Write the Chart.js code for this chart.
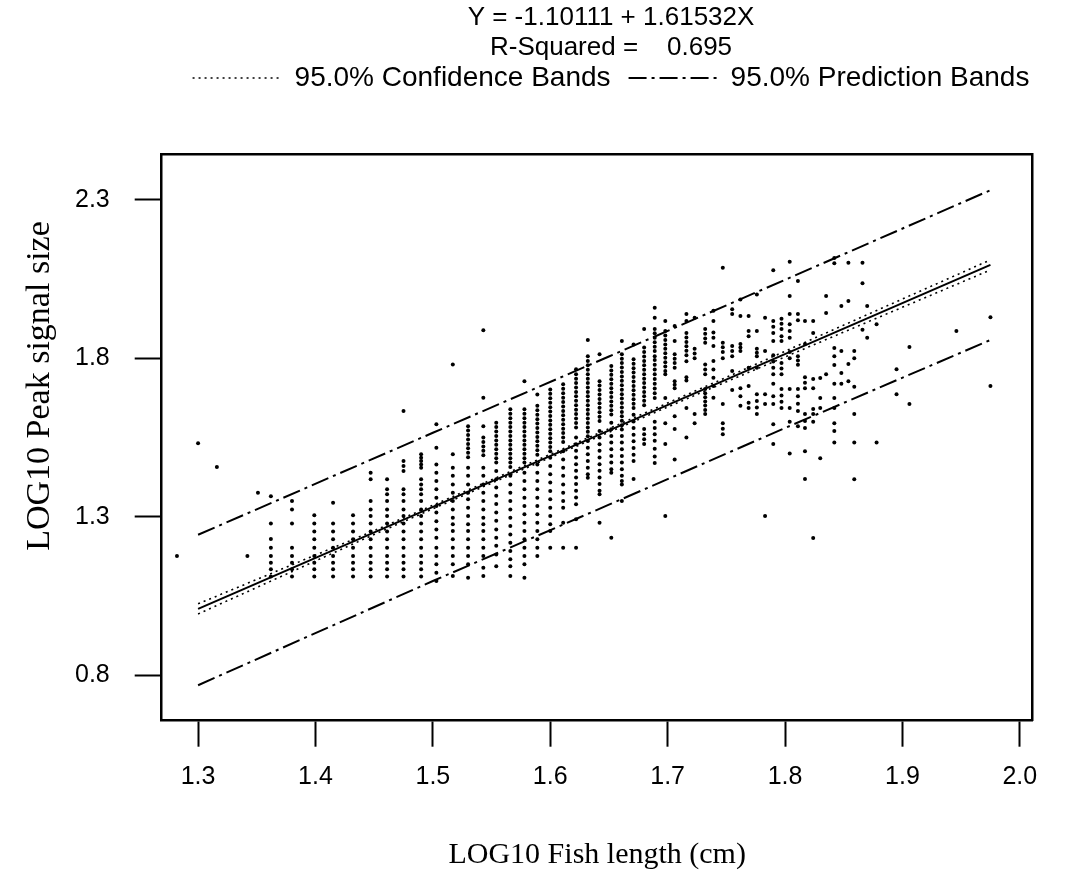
<!DOCTYPE html>
<html>
<head>
<meta charset="utf-8">
<script src="https://cdn.jsdelivr.net/npm/chart.js@4.4.1/dist/chart.umd.min.js"></script>
<style>
  html, body { margin: 0; padding: 0; background: #fff; }
  #wrap { width: 1091px; height: 882px; }
</style>
</head>
<body>
<div id="wrap"><canvas id="c" width="1091" height="882" style="width:1091px;height:882px"></canvas></div>
<script>
// ---- Data ----
const titleLines = ['Y = -1.10111 + 1.61532X', 'R-Squared =    0.695'];
const xTitle = 'LOG10 Fish length (cm)';
const yTitle = 'LOG10 Peak signal size';
const xTicks = [1.3, 1.4, 1.5, 1.6, 1.7, 1.8, 1.9, 2.0];
const yTicks = [0.8, 1.3, 1.8, 2.3];

// Fitted line (as drawn)
const regX = [1.3, 1.975];
const regY = [1.009, 2.095];

// 95% confidence bands
const confX = [1.3, 1.45, 1.6, 1.75, 1.975];
const confUpper = [1.025, 1.256, 1.497, 1.740, 2.111];
const confLower = [0.993, 1.244, 1.487, 1.726, 2.079];

// 95% prediction bands
const predX = [1.3, 1.5, 1.65, 1.8, 1.975];
const predUpper = [1.243, 1.565, 1.806, 2.048, 2.331];
const predLower = [0.768, 1.097, 1.338, 1.580, 1.858];

// Observations: x column positions and the y values read in each column
const colX = [1.282, 1.300, 1.316, 1.342, 1.351, 1.362, 1.380, 1.399, 1.415, 1.432, 1.447, 1.461, 1.475, 1.490, 1.503, 1.517, 1.530, 1.543, 1.554, 1.566, 1.578, 1.589, 1.600, 1.611, 1.622, 1.632, 1.642, 1.652, 1.661, 1.671, 1.680, 1.689, 1.698, 1.706, 1.716, 1.723, 1.732, 1.739, 1.747, 1.755, 1.762, 1.769, 1.776, 1.783, 1.790, 1.797, 1.804, 1.811, 1.817, 1.824, 1.830, 1.835, 1.842, 1.848, 1.854, 1.859, 1.866, 1.870, 1.878, 1.895, 1.906, 1.946, 1.975];
const colY = [
  [1.176],
  [1.532],
  [1.457],
  [1.176],
  [1.376],
  [1.365, 1.279, 1.230, 1.202, 1.176, 1.155, 1.134, 1.111],
  [1.350, 1.323, 1.279, 1.202, 1.176, 1.155, 1.134, 1.111],
  [1.305, 1.279, 1.253, 1.229, 1.202, 1.176, 1.155, 1.134, 1.111],
  [1.344, 1.279, 1.253, 1.229, 1.202, 1.176, 1.155, 1.134, 1.111],
  [1.305, 1.279, 1.253, 1.229, 1.202, 1.176, 1.155, 1.134, 1.111],
  [1.439, 1.418, 1.350, 1.323, 1.302, 1.279, 1.253, 1.229, 1.202, 1.176, 1.155, 1.134, 1.111],
  [1.418, 1.387, 1.371, 1.350, 1.323, 1.302, 1.279, 1.253, 1.229, 1.202, 1.176, 1.155, 1.134, 1.111],
  [1.634, 1.476, 1.460, 1.444, 1.387, 1.371, 1.350, 1.323, 1.302, 1.279, 1.253, 1.229, 1.202, 1.176, 1.155, 1.134, 1.111],
  [1.497, 1.486, 1.476, 1.465, 1.455, 1.418, 1.402, 1.387, 1.371, 1.350, 1.323, 1.302, 1.279, 1.253, 1.229, 1.202, 1.176, 1.155, 1.134, 1.111],
  [1.592, 1.518, 1.465, 1.439, 1.413, 1.387, 1.360, 1.334, 1.313, 1.286, 1.260, 1.234, 1.202, 1.176, 1.150, 1.123, 1.097],
  [1.781, 1.497, 1.455, 1.429, 1.402, 1.376, 1.350, 1.323, 1.297, 1.276, 1.255, 1.229, 1.202, 1.176, 1.150, 1.113],
  [1.586, 1.572, 1.558, 1.544, 1.530, 1.516, 1.502, 1.488, 1.455, 1.429, 1.402, 1.376, 1.355, 1.328, 1.302, 1.276, 1.255, 1.229, 1.202, 1.176, 1.150, 1.107],
  [1.889, 1.676, 1.586, 1.550, 1.536, 1.522, 1.508, 1.494, 1.455, 1.429, 1.402, 1.376, 1.350, 1.323, 1.297, 1.276, 1.255, 1.229, 1.202, 1.176, 1.139, 1.113],
  [1.597, 1.583, 1.569, 1.555, 1.541, 1.527, 1.513, 1.499, 1.485, 1.471, 1.444, 1.418, 1.392, 1.366, 1.340, 1.313, 1.287, 1.260, 1.234, 1.208, 1.181, 1.144],
  [1.639, 1.625, 1.611, 1.597, 1.583, 1.569, 1.555, 1.541, 1.527, 1.513, 1.499, 1.485, 1.471, 1.457, 1.429, 1.402, 1.376, 1.350, 1.323, 1.297, 1.271, 1.244, 1.218, 1.192, 1.166, 1.144, 1.113],
  [1.728, 1.639, 1.625, 1.611, 1.597, 1.583, 1.569, 1.555, 1.541, 1.527, 1.513, 1.499, 1.485, 1.471, 1.439, 1.413, 1.387, 1.360, 1.334, 1.308, 1.281, 1.255, 1.229, 1.202, 1.176, 1.150, 1.107],
  [1.686, 1.650, 1.636, 1.622, 1.608, 1.594, 1.580, 1.566, 1.552, 1.538, 1.524, 1.510, 1.496, 1.465, 1.439, 1.413, 1.387, 1.360, 1.334, 1.308, 1.281, 1.255, 1.229, 1.202, 1.176],
  [1.702, 1.688, 1.674, 1.660, 1.646, 1.632, 1.618, 1.604, 1.590, 1.576, 1.562, 1.548, 1.534, 1.520, 1.507, 1.486, 1.460, 1.434, 1.408, 1.381, 1.355, 1.328, 1.302, 1.276, 1.255, 1.202],
  [1.718, 1.704, 1.690, 1.676, 1.662, 1.648, 1.634, 1.620, 1.606, 1.592, 1.578, 1.564, 1.550, 1.536, 1.507, 1.481, 1.455, 1.429, 1.402, 1.376, 1.350, 1.328, 1.281, 1.202],
  [1.766, 1.750, 1.736, 1.722, 1.708, 1.694, 1.680, 1.666, 1.652, 1.638, 1.624, 1.610, 1.596, 1.582, 1.550, 1.529, 1.508, 1.487, 1.466, 1.445, 1.424, 1.403, 1.382, 1.361, 1.339, 1.292, 1.202],
  [1.858, 1.807, 1.792, 1.778, 1.764, 1.750, 1.736, 1.722, 1.708, 1.694, 1.680, 1.666, 1.652, 1.638, 1.624, 1.610, 1.596, 1.582, 1.568, 1.554, 1.539, 1.518, 1.497, 1.476, 1.455, 1.434, 1.423],
  [1.813, 1.728, 1.714, 1.700, 1.686, 1.672, 1.658, 1.644, 1.630, 1.616, 1.602, 1.571, 1.550, 1.529, 1.508, 1.487, 1.466, 1.445, 1.424, 1.403, 1.382, 1.371, 1.281],
  [1.776, 1.762, 1.748, 1.734, 1.720, 1.706, 1.692, 1.678, 1.664, 1.650, 1.636, 1.623, 1.597, 1.576, 1.555, 1.534, 1.513, 1.492, 1.471, 1.450, 1.439, 1.234],
  [1.855, 1.813, 1.799, 1.785, 1.771, 1.757, 1.743, 1.729, 1.715, 1.701, 1.687, 1.673, 1.659, 1.645, 1.631, 1.617, 1.603, 1.589, 1.575, 1.555, 1.534, 1.513, 1.492, 1.471, 1.450, 1.429, 1.413, 1.402, 1.350],
  [1.844, 1.797, 1.783, 1.769, 1.755, 1.741, 1.727, 1.713, 1.699, 1.685, 1.671, 1.657, 1.643, 1.622, 1.601, 1.580, 1.559, 1.538, 1.517, 1.496, 1.476, 1.419],
  [1.893, 1.834, 1.820, 1.806, 1.792, 1.778, 1.764, 1.750, 1.736, 1.722, 1.708, 1.694, 1.680, 1.666, 1.652, 1.577, 1.560, 1.545, 1.530],
  [1.960, 1.928, 1.893, 1.879, 1.865, 1.851, 1.837, 1.823, 1.807, 1.795, 1.780, 1.765, 1.750, 1.735, 1.720, 1.705, 1.690, 1.675, 1.600, 1.580, 1.560, 1.540, 1.515, 1.490, 1.470],
  [1.918, 1.886, 1.872, 1.858, 1.844, 1.830, 1.816, 1.802, 1.788, 1.774, 1.760, 1.750, 1.675, 1.595, 1.530, 1.302],
  [1.902, 1.855, 1.813, 1.799, 1.785, 1.770, 1.728, 1.717, 1.706, 1.617, 1.577, 1.481],
  [1.940, 1.918, 1.880, 1.866, 1.852, 1.838, 1.824, 1.810, 1.791, 1.740, 1.730, 1.643, 1.550],
  [1.928, 1.830, 1.815, 1.800, 1.624, 1.595],
  [1.893, 1.878, 1.863, 1.849, 1.781, 1.765, 1.750, 1.703, 1.690, 1.677, 1.664, 1.651, 1.637, 1.624],
  [1.950, 1.918, 1.882, 1.865, 1.839, 1.792, 1.765, 1.739, 1.713, 1.676],
  [2.086, 1.849, 1.835, 1.820, 1.800, 1.656, 1.595, 1.578, 1.560],
  [1.955, 1.940, 1.839, 1.823, 1.807, 1.760, 1.700],
  [1.986, 1.934, 1.845, 1.834, 1.823, 1.706, 1.680, 1.650],
  [1.934, 1.886, 1.870, 1.770, 1.713, 1.660, 1.643],
  [2.002, 1.886, 1.830, 1.818, 1.807, 1.770, 1.687, 1.665, 1.645, 1.624],
  [1.928, 1.823, 1.687, 1.656, 1.302],
  [2.078, 1.918, 1.900, 1.880, 1.855, 1.810, 1.790, 1.770, 1.750, 1.720, 1.680, 1.656, 1.592, 1.530],
  [1.925, 1.909, 1.893, 1.870, 1.855, 1.785, 1.768, 1.750, 1.703, 1.683, 1.663, 1.643],
  [2.105, 1.997, 1.940, 1.908, 1.886, 1.865, 1.820, 1.800, 1.703, 1.643, 1.600, 1.500],
  [2.044, 1.940, 1.920, 1.807, 1.793, 1.780, 1.703, 1.680, 1.657, 1.634, 1.586],
  [1.918, 1.845, 1.740, 1.723, 1.706, 1.624, 1.602, 1.580, 1.507, 1.419],
  [1.918, 1.880, 1.735, 1.706, 1.640, 1.624, 1.600, 1.233],
  [1.738, 1.675, 1.643, 1.485],
  [1.997, 1.943, 1.750],
  [2.117, 2.100, 1.833, 1.807, 1.779, 1.720, 1.675, 1.643, 1.595, 1.571, 1.534],
  [1.965, 1.823, 1.754, 1.720],
  [2.102, 1.981, 1.782, 1.728],
  [1.823, 1.800, 1.710, 1.624, 1.534, 1.418],
  [2.102, 2.037, 1.890],
  [1.965, 1.865],
  [1.908, 1.534],
  [1.766, 1.687],
  [1.836, 1.656],
  [1.886],
  [1.930, 1.713]
];

const xMin = 1.269, xMax = 2.011;
const yMin = 0.656, yMax = 2.443;

// ---- Build chart ----
const toXY = (xs, ys) => xs.map((x, i) => ({ x, y: ys[i] }));
const points = [];
colX.forEach((x, i) => colY[i].forEach(y => points.push({ x, y })));

const SANS = '"Liberation Sans", Arial, Helvetica, sans-serif';
const SERIF = '"Liberation Serif", "Times New Roman", Times, serif';
Chart.defaults.color = '#000';

const lineBase = { type: 'line', pointRadius: 0, pointHoverRadius: 0, fill: false, tension: 0, borderColor: '#000', pointStyle: 'line' };
const LEFT_PAD = 131;   // shifts the centred title/legend block right, as in the reference
const PLOT_LEFT = 161.7;

// Vertical axis title, placed where the reference has it
const yTitlePlugin = {
  id: 'yTitleText',
  afterDraw(chart) {
    const ctx = chart.ctx;
    ctx.save();
    ctx.translate(40, 386);
    ctx.rotate(-Math.PI / 2);
    ctx.font = '34px ' + SERIF;
    ctx.fillStyle = '#000';
    ctx.textAlign = 'center';
    ctx.textBaseline = 'middle';
    ctx.fillText(yTitle, 0, 0);
    ctx.restore();
  }
};

new Chart(document.getElementById('c'), {
  data: {
    datasets: [
      { type: 'scatter', label: 'data', data: points, pointRadius: 2.0, pointHoverRadius: 2.0, pointStyle: 'circle', backgroundColor: '#000', borderWidth: 0 },
      { ...lineBase, label: 'fit', data: toXY(regX, regY), borderWidth: 2 },
      { ...lineBase, label: '95.0% Confidence Bands', data: toXY(confX, confUpper), borderWidth: 1.6, borderDash: [2, 4] },
      { ...lineBase, label: 'confLower', data: toXY(confX, confLower), borderWidth: 1.6, borderDash: [2, 4] },
      { ...lineBase, label: '95.0% Prediction Bands', data: toXY(predX, predUpper), borderWidth: 2, borderDash: [18, 5, 3, 5] },
      { ...lineBase, label: 'predLower', data: toXY(predX, predLower), borderWidth: 2, borderDash: [18, 5, 3, 5] }
    ]
  },
  plugins: [yTitlePlugin],
  options: {
    responsive: false,
    animation: false,
    events: [],
    layout: { padding: { left: LEFT_PAD, right: 0, top: 0, bottom: 0 } },
    plugins: {
      tooltip: { enabled: false },
      title: {
        display: true,
        text: titleLines,
        color: '#000',
        font: { family: SANS, size: 26, lineHeight: 1.15, weight: 'normal' },
        padding: { top: 3, bottom: -16.8 }
      },
      legend: {
        display: true,
        position: 'top',
        labels: {
          generateLabels: (chart) => Chart.defaults.plugins.legend.labels.generateLabels(chart).map(it => {
            const ds = chart.data.datasets[it.datasetIndex];
            return { ...it, lineDash: ds.borderDash || [], lineWidth: ds.borderWidth, strokeStyle: '#000' };
          }),
          filter: (item) => item.datasetIndex === 2 || item.datasetIndex === 4,
          usePointStyle: true,
          pointStyle: 'line',
          pointStyleWidth: 88,
          color: '#000',
          padding: 18,
          font: { family: SANS, size: 28 }
        }
      }
    },
    scales: {
      x: {
        type: 'linear', position: 'bottom', min: xMin, max: xMax,
        afterBuildTicks: (s) => { s.ticks = xTicks.map(v => ({ value: v })); },
        afterFit: (s) => { s.height = 882 - 720.7; },
        ticks: { callback: (v) => Number(v).toFixed(1), font: { family: SANS, size: 25 }, color: '#000', padding: 15, maxRotation: 0, autoSkip: false },
        grid: { drawOnChartArea: false, drawTicks: true, tickLength: 26, tickWidth: 2, tickColor: '#000' },
        border: { display: true, color: '#000', width: 2.5 },
        title: { display: true, text: xTitle, color: '#000', font: { family: SERIF, size: 30 }, padding: { top: 0, bottom: 9 } }
      },
      y: {
        type: 'linear', position: 'left', min: yMin, max: yMax,
        afterBuildTicks: (s) => { s.ticks = yTicks.map(v => ({ value: v })); },
        afterFit: (s) => { s.width = PLOT_LEFT - LEFT_PAD; },
        // labels placed left of the tick marks (mirror used only to avoid clipping to the narrow box)
        ticks: { callback: (v) => Number(v).toFixed(1), font: { family: SANS, size: 25 }, color: '#000', mirror: true, crossAlign: 'far', padding: 110 - PLOT_LEFT - 35, autoSkip: false },
        grid: { drawOnChartArea: false, drawTicks: true, tickLength: 27, tickWidth: 2, tickColor: '#000' },
        border: { display: true, color: '#000', width: 2.5 },
        title: { display: false }
      },
      xTop: {
        type: 'linear', position: 'top', min: xMin, max: xMax,
        afterFit: (s) => { s.height = 52.7; },
        ticks: { display: false },
        grid: { drawOnChartArea: false, drawTicks: false },
        border: { display: true, color: '#000', width: 2.5 }
      },
      yRight: {
        type: 'linear', position: 'right', min: yMin, max: yMax,
        afterFit: (s) => { s.width = 58.3; },
        ticks: { display: false },
        grid: { drawOnChartArea: false, drawTicks: false },
        border: { display: true, color: '#000', width: 2.5 }
      }
    }
  }
});
</script>
</body>
</html>
